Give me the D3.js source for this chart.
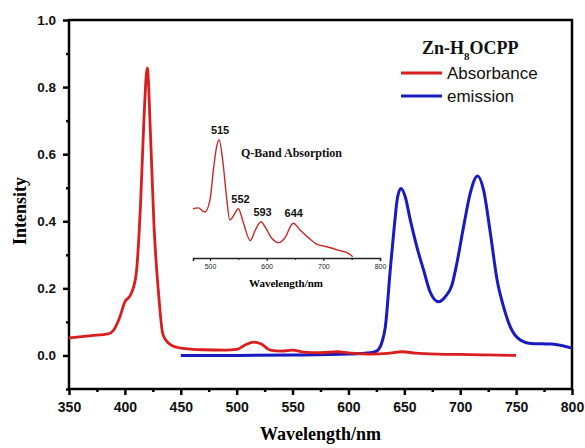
<!DOCTYPE html>
<html>
<head>
<meta charset="utf-8">
<script src="https://cdn.jsdelivr.net/npm/d3@7"></script>
<style>
body { margin: 0; background: #fff; }
</style>
</head>
<body>
<div id="chart"></div>
<script>
var w = 585;
var h = 448;

// main absorbance spectrum [wavelength, intensity]
var absorbance = [[350, 0.052], [370, 0.059], [385, 0.064], [390, 0.076], [395, 0.11], [400, 0.16], [405, 0.18], [410, 0.24],
    [414, 0.45], [417, 0.70], [420, 0.857], [423, 0.65], [426, 0.39], [430, 0.19], [434, 0.063], [440, 0.034], [450, 0.022],
    [470, 0.017], [490, 0.016], [500, 0.018], [508, 0.032], [515, 0.04], [522, 0.034], [530, 0.016], [540, 0.013],
    [550, 0.016], [560, 0.01], [575, 0.008], [590, 0.011], [600, 0.008], [620, 0.004], [635, 0.006], [648, 0.011],
    [660, 0.007], [680, 0.004], [700, 0.003], [720, 0.002], [750, 0.0]];

// emission spectrum [wavelength, intensity]
var emission = [[450, 0.0], [500, 0.0], [550, 0.001], [600, 0.004], [620, 0.008], [626, 0.015], [630, 0.04], [633, 0.085],
    [637.4, 0.255], [641, 0.384], [644, 0.473], [647, 0.498], [650.8, 0.473], [655.3, 0.404], [661.2, 0.324],
    [667.2, 0.255], [673, 0.19], [680.6, 0.16], [686.6, 0.175], [692.6, 0.21], [697, 0.275], [703, 0.384],
    [709, 0.484], [715.5, 0.535], [720.9, 0.493], [727, 0.364], [733, 0.225], [738.8, 0.145], [744.8, 0.085],
    [753.7, 0.046], [762.7, 0.036], [782, 0.034], [800, 0.022]];

// inset Q-band absorbance [wavelength, absorbance]
var qband = [[470, 0.0167], [479, 0.0170], [491, 0.0156], [500, 0.0197], [506, 0.0298], [511, 0.037], [516, 0.0400],
    [523, 0.0322], [529, 0.021], [535, 0.0129], [541, 0.0142], [550, 0.0167], [559, 0.0119], [571, 0.0059], [580, 0.0095],
    [590, 0.0123], [597, 0.0106], [609, 0.0067], [622, 0.0052], [632, 0.0068], [647, 0.0118], [659, 0.0095],
    [673, 0.0070], [688, 0.0047], [706, 0.0038], [729, 0.0025], [744, 0.0016], [752, 0.0004]];
var qPeaks = [[516, 0.0400, "515"], [552, 0.0167, "552"], [591, 0.0123, "593"], [646, 0.0118, "644"]];

var xTicks = [350, 400, 450, 500, 550, 600, 650, 700, 750, 800];
var yTicks = [0.0, 0.2, 0.4, 0.6, 0.8, 1.0];
var insetTicks = [500, 600, 700, 800];

var red = "#d81e1e";
var blue = "#1a1ac0";

var mLeft = 69, mRight = 572, mTop = 20, mBottom = 389;

var xScale = d3.scaleLinear().domain([350, 800]).range([mLeft, mRight]);
var yScale = d3.scaleLinear().domain([-0.1, 1.0]).range([mBottom, mTop]);

var svg = d3.select("#chart")
            .append("svg")
            .attr("width", w)
            .attr("height", h);

// frame
svg.append("rect")
    .attr("x", mLeft).attr("y", mTop)
    .attr("width", mRight - mLeft).attr("height", mBottom - mTop)
    .attr("fill", "none").attr("stroke", "#000").attr("stroke-width", 2.5);

// axes
var xAxis = d3.axisBottom(xScale).tickValues(xTicks).tickSize(6).tickPadding(7).tickFormat(d3.format("d"));
var xMinor = d3.axisBottom(xScale).tickValues(d3.range(375, 800, 50)).tickSize(3).tickFormat("");
var yAxis = d3.axisLeft(yScale).tickValues(yTicks).tickSize(6).tickPadding(7).tickFormat(d3.format(".1f"));
var yMinor = d3.axisLeft(yScale).tickValues([-0.1, 0.1, 0.3, 0.5, 0.7, 0.9]).tickSize(3).tickFormat("");

function styleAxis(g, size) {
    g.select(".domain").remove();
    g.selectAll("line").attr("stroke", "#000").attr("stroke-width", 2.5);
    g.selectAll("text").attr("fill", "#111")
        .style("font-family", "Liberation Sans, Arial, sans-serif")
        .style("font-weight", "bold").style("font-size", size + "px");
}

svg.append("g").attr("transform", "translate(0," + mBottom + ")").call(xAxis).call(styleAxis, 14);
svg.append("g").attr("transform", "translate(0," + mBottom + ")").call(xMinor).call(styleAxis, 14);
svg.append("g").attr("transform", "translate(" + mLeft + ",0)").call(yAxis).call(styleAxis, 13.5);
svg.append("g").attr("transform", "translate(" + mLeft + ",0)").call(yMinor).call(styleAxis, 13.5);

// axis titles
svg.append("text")
    .attr("x", (mLeft + mRight) / 2).attr("y", 440)
    .attr("text-anchor", "middle")
    .style("font-family", "Liberation Serif, Times New Roman, serif")
    .style("font-weight", "bold").style("font-size", "18px")
    .text("Wavelength/nm");

svg.append("text")
    .attr("transform", "translate(26,211) rotate(-90)")
    .attr("text-anchor", "middle")
    .style("font-family", "Liberation Serif, Times New Roman, serif")
    .style("font-weight", "bold").style("font-size", "18px")
    .text("Intensity");

// curves
var line = d3.line()
    .x(function(d) { return xScale(d[0]); })
    .y(function(d) { return yScale(d[1]); })
    .curve(d3.curveMonotoneX);

svg.append("path").datum(emission)
    .attr("d", line).attr("fill", "none")
    .attr("stroke", blue).attr("stroke-width", 3);

svg.append("path").datum(absorbance)
    .attr("d", line).attr("fill", "none")
    .attr("stroke", red).attr("stroke-width", 2.8);

// inset
var ix = d3.scaleLinear().domain([470, 800]).range([193, 380]);
var iy = d3.scaleLinear().domain([0, 0.04]).range([258, 140]);

var insetAxis = d3.axisBottom(ix).tickValues(insetTicks).tickSize(3).tickPadding(3).tickFormat(d3.format("d"));
var insetMinor = d3.axisBottom(ix).tickValues([550, 650, 750]).tickSize(2).tickFormat("");

var ig = svg.append("g").attr("transform", "translate(0,258)");
ig.call(insetAxis);
ig.select(".domain").attr("stroke", "#222").attr("stroke-width", 1.5);
ig.selectAll("line").attr("stroke", "#222").attr("stroke-width", 1.2);
ig.selectAll("text").attr("fill", "#222")
    .style("font-family", "Liberation Sans, Arial, sans-serif")
    .style("font-size", "7px");
var im = svg.append("g").attr("transform", "translate(0,258)");
im.call(insetMinor);
im.select(".domain").remove();
im.selectAll("line").attr("stroke", "#222").attr("stroke-width", 1.2);

svg.append("text")
    .attr("x", 286).attr("y", 287)
    .attr("text-anchor", "middle")
    .style("font-family", "Liberation Serif, Times New Roman, serif")
    .style("font-weight", "bold").style("font-size", "11px")
    .text("Wavelength/nm");

var iline = d3.line()
    .x(function(d) { return ix(d[0]); })
    .y(function(d) { return iy(d[1]); })
    .curve(d3.curveMonotoneX);

svg.append("path").datum(qband)
    .attr("d", iline).attr("fill", "none")
    .attr("stroke", "#c8282a").attr("stroke-width", 1.4);

svg.selectAll(".peak")
    .data(qPeaks)
    .enter()
    .append("text")
    .attr("class", "peak")
    .attr("x", function(d) { return ix(d[0]) + 1; })
    .attr("y", function(d) { return iy(d[1]) - 6; })
    .attr("text-anchor", "middle")
    .style("font-family", "Liberation Sans, Arial, sans-serif")
    .style("font-weight", "bold").style("font-size", "11px")
    .attr("fill", "#111")
    .text(function(d) { return d[2]; });

svg.append("text")
    .attr("x", 241).attr("y", 157)
    .style("font-family", "Liberation Serif, Times New Roman, serif")
    .style("font-weight", "bold").style("font-size", "12px")
    .attr("fill", "#111")
    .text("Q-Band Absorption");

// legend
var title = svg.append("text")
    .attr("x", 422).attr("y", 54)
    .style("font-family", "Liberation Serif, Times New Roman, serif")
    .style("font-weight", "bold").style("font-size", "18px")
    .attr("fill", "#111");
title.append("tspan").text("Zn-H");
title.append("tspan").attr("dy", 6).style("font-size", "11px").text("8");
title.append("tspan").attr("dy", -6).text("OCPP");

var legendItems = [["Absorbance", red], ["emission", blue]];
var lg = svg.selectAll(".leg")
    .data(legendItems)
    .enter()
    .append("g")
    .attr("class", "leg")
    .attr("transform", function(d, i) { return "translate(401," + (73 + i * 23) + ")"; });
lg.append("line")
    .attr("x1", 0).attr("x2", 41)
    .attr("stroke", function(d) { return d[1]; })
    .attr("stroke-width", 3);
lg.append("text")
    .attr("x", 46).attr("y", 6)
    .style("font-family", "Liberation Sans, Arial, sans-serif")
    .style("font-size", "17px")
    .attr("fill", "#111")
    .text(function(d) { return d[0]; });
</script>
</body>
</html>
